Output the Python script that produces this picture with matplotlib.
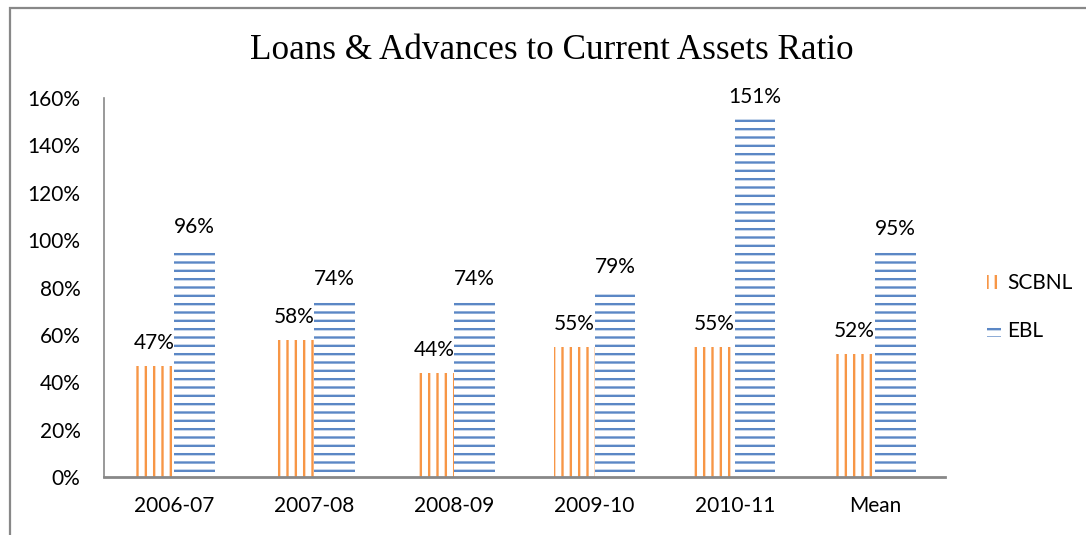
import matplotlib
matplotlib.use("Agg")
import matplotlib.pyplot as plt
import numpy as np
from matplotlib.patches import Rectangle

categories = ["2006-07", "2007-08", "2008-09", "2009-10", "2010-11", "Mean"]
scbnl = [0.47, 0.58, 0.44, 0.55, 0.55, 0.52]
ebl = [0.96, 0.74, 0.74, 0.79, 1.51, 0.95]
yticks = [0, 0.2, 0.4, 0.6, 0.8, 1.0, 1.2, 1.4, 1.6]
title = "Loans & Advances to Current Assets Ratio"

plt.rcParams['hatch.linewidth'] = 1.7
W, H = 1086, 535
fig = plt.figure(figsize=(W / 100, H / 100), dpi=100)
ax = fig.add_axes([104 / W, 1 - 477 / H, (945 - 104) / W, (477 - 98) / H])

x = np.arange(len(categories))
bw = 0.29
orange = "#F79646"
blue = "#5B87C5"
b1 = ax.bar(x - bw / 2, scbnl, bw, facecolor="white", edgecolor=orange, hatch="||", linewidth=0, label="SCBNL")
b2 = ax.bar(x + bw / 2, ebl, bw, facecolor="white", edgecolor=blue, hatch="--", linewidth=0, label="EBL")

font = "Lato"
fs = 15
ax.bar_label(b1, labels=[f"{v*100:.0f}%" for v in scbnl], padding=9, fontsize=fs, family=font)
ax.bar_label(b2, labels=[f"{v*100:.0f}%" for v in ebl], padding=9, fontsize=fs, family=font)

ax.set_xlim(-0.5, len(categories) - 0.5)
ax.set_ylim(0, 1.6)
ax.set_yticks(yticks)
ax.set_yticklabels([f"{v*100:.0f}%" for v in yticks], fontsize=fs, family=font)
ax.set_xticks(x)
ax.set_xticklabels(categories, fontsize=fs, family=font)
ax.tick_params(axis="y", length=0, pad=17)
ax.tick_params(axis="x", length=0, pad=14)
for s in ["top", "right"]:
    ax.spines[s].set_visible(False)
ax.spines["left"].set_color("#888888")
ax.spines["left"].set_linewidth(1.2)
ax.spines["bottom"].set_color("#888888")
ax.spines["bottom"].set_linewidth(2)

fig.text(552 / W, 1 - 59 / H, title, fontsize=25.3, family="Liberation Serif", ha="center", va="baseline")

leg = fig.legend(handles=[b1, b2], loc="center left", bbox_to_anchor=(968 / W, 1 - 307 / H),
                 frameon=False, prop={"family": font, "size": fs}, handlelength=0.7,
                 handleheight=0.7, labelspacing=1.3, handletextpad=0.3)

fig.patches.append(Rectangle((10 / W, -0.1), 1.2, 1 - 8 / H + 0.1, transform=fig.transFigure,
                             fill=False, edgecolor="#888888", linewidth=1.6))

fig.savefig("out.png", dpi=100)
